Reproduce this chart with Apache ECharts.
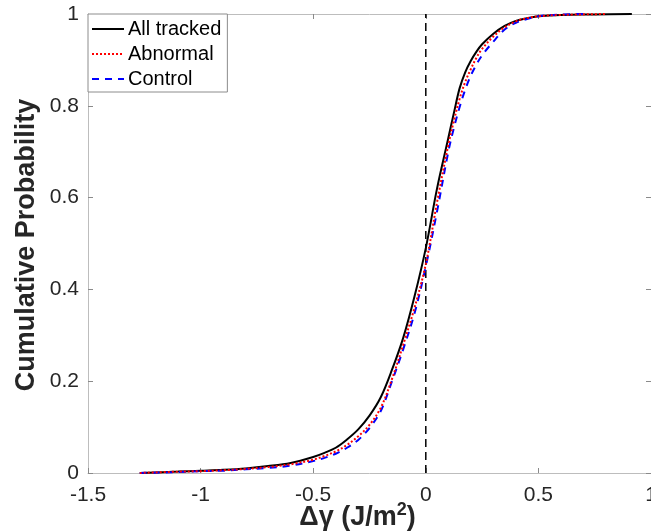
<!DOCTYPE html>
<html>
<head>
<meta charset="utf-8">
<script src="https://cdn.jsdelivr.net/npm/echarts@6/dist/echarts.min.js"></script>
<style>
  html, body { margin: 0; padding: 0; background: #fff; }
  #chart { width: 651px; height: 531px; }
</style>
</head>
<body>
<div id="chart"></div>
<script>
// Empirical CDFs of the surface-energy change, one [x, y] list per group
const allTracked = [
  [-1.27, 0.000], [-1.1, 0.003], [-1.0, 0.005], [-0.9, 0.007], [-0.8, 0.010],
  [-0.7, 0.015], [-0.6, 0.022], [-0.5, 0.035], [-0.45, 0.044], [-0.4, 0.055],
  [-0.35, 0.073], [-0.3, 0.095], [-0.25, 0.125], [-0.2, 0.165], [-0.15, 0.225],
  [-0.1, 0.295], [-0.05, 0.385], [0.0, 0.49], [0.05, 0.62], [0.1, 0.73],
  [0.125, 0.785], [0.15, 0.838], [0.175, 0.873], [0.2, 0.898], [0.225, 0.918],
  [0.25, 0.934], [0.3, 0.957], [0.35, 0.974], [0.4, 0.985], [0.45, 0.991],
  [0.5, 0.995], [0.6, 0.998], [0.75, 0.999], [0.915, 1.000]
];
const abnormal = [
  [-1.27, 0.000], [-1.1, 0.003], [-1.0, 0.004], [-0.9, 0.006], [-0.8, 0.009],
  [-0.7, 0.013], [-0.6, 0.019], [-0.5, 0.029], [-0.45, 0.037], [-0.4, 0.047],
  [-0.35, 0.061], [-0.3, 0.080], [-0.25, 0.105], [-0.2, 0.142], [-0.15, 0.205],
  [-0.1, 0.28], [-0.05, 0.36], [0.0, 0.455], [0.05, 0.59], [0.1, 0.715],
  [0.125, 0.768], [0.15, 0.815], [0.175, 0.852], [0.2, 0.88], [0.225, 0.905],
  [0.25, 0.924], [0.3, 0.951], [0.35, 0.971], [0.4, 0.984], [0.45, 0.991],
  [0.5, 0.995], [0.6, 0.998], [0.8, 1.000]
];
const control = [
  [-1.27, 0.000], [-1.1, 0.002], [-1.0, 0.004], [-0.9, 0.005], [-0.8, 0.008],
  [-0.7, 0.011], [-0.6, 0.016], [-0.5, 0.026], [-0.45, 0.033], [-0.4, 0.042],
  [-0.35, 0.055], [-0.3, 0.072], [-0.25, 0.098], [-0.2, 0.135], [-0.15, 0.20],
  [-0.1, 0.27], [-0.05, 0.348], [0.0, 0.45], [0.05, 0.57], [0.1, 0.70],
  [0.125, 0.752], [0.15, 0.797], [0.175, 0.835], [0.2, 0.866], [0.225, 0.89],
  [0.25, 0.91], [0.3, 0.94], [0.35, 0.966], [0.4, 0.981], [0.45, 0.989],
  [0.5, 0.995], [0.6, 0.999], [0.71, 1.000]
];
// Reference line at zero change
const zeroLine = [[0, 0], [0, 1]];

const seriesNames = ['All tracked', 'Abnormal', 'Control'];
const xTicks = { min: -1.5, max: 1, step: 0.5 };
const yTicks = { min: 0, max: 1, step: 0.2 };

const FONT = '"Liberation Sans", Arial, Helvetica, sans-serif';
const AXIS_GRAY = '#bdbdbd';
const TEXT = '#262626';

const chart = echarts.init(document.getElementById('chart'), null, { renderer: 'canvas' });

const frameAxis = {
  axisLine: { show: true, onZero: false, lineStyle: { color: AXIS_GRAY, width: 1 } },
  axisTick: { show: true, inside: true, length: 5, lineStyle: { color: '#8a8a8a', width: 1 } },
  splitLine: { show: false }
};

chart.setOption({
  animation: false,
  backgroundColor: '#fff',
  textStyle: { fontFamily: FONT },
  grid: { left: 88, right: 0, top: 14, bottom: 58, containLabel: false, outerBoundsMode: 'none' },
  legend: {
    data: seriesNames,
    orient: 'vertical',
    left: 88, top: 14,
    padding: [5, 6, 3, 3],
    itemGap: 5,
    itemWidth: 32, itemHeight: 14,
    itemStyle: { opacity: 0 },
    backgroundColor: '#fff',
    borderColor: '#8c8c8c', borderWidth: 1,
    textStyle: { fontFamily: FONT, fontSize: 20, color: '#000', padding: [0, 0, 0, -1] }
  },
  xAxis: [
    Object.assign({
      type: 'value', position: 'bottom',
      min: xTicks.min, max: xTicks.max, interval: xTicks.step,
      axisLabel: { fontFamily: FONT, fontSize: 21, color: TEXT, margin: 12 },
      name: '{a|Δγ (J/m}{s|2}{a|)}',
      nameLocation: 'middle', nameGap: 28,
      nameMoveOverlap: false,
      nameTextStyle: {
        padding: [0, 24, 0, 0],
        rich: {
          a: { fontFamily: FONT, fontSize: 27, fontWeight: 'bold', color: TEXT, verticalAlign: 'bottom', lineHeight: 30 },
          s: { fontFamily: FONT, fontSize: 18, fontWeight: 'bold', color: TEXT, verticalAlign: 'top', lineHeight: 30, padding: [0, 0, 12, 0] }
        }
      }
    }, frameAxis),
    Object.assign({
      type: 'value', position: 'top',
      min: xTicks.min, max: xTicks.max, interval: xTicks.step,
      axisLabel: { show: false }
    }, frameAxis)
  ],
  yAxis: [
    Object.assign({
      type: 'value', position: 'left',
      min: yTicks.min, max: yTicks.max, interval: yTicks.step,
      axisLabel: { fontFamily: FONT, fontSize: 21, color: TEXT, margin: 9 },
      name: 'Cumulative Probability',
      nameLocation: 'middle', nameGap: 48,
      nameMoveOverlap: false,
      nameTextStyle: { fontFamily: FONT, fontSize: 27, fontWeight: 'bold', color: TEXT, padding: [0, 3, 0, 0] }
    }, frameAxis),
    Object.assign({
      type: 'value', position: 'right',
      min: yTicks.min, max: yTicks.max, interval: yTicks.step,
      axisLabel: { show: false }
    }, frameAxis)
  ],
  series: [
    {
      name: 'zero', type: 'line', data: zeroLine,
      symbol: 'none', silent: true,
      lineStyle: { color: '#000', width: 1.5, type: [8, 5] },
      z: 1
    },
    {
      name: seriesNames[0], type: 'line', data: allTracked,
      symbol: 'none', smooth: 0.35,
      lineStyle: { color: '#000', width: 2, type: 'solid' },
      itemStyle: { color: '#000' },
      z: 2
    },
    {
      name: seriesNames[2], type: 'line', data: control,
      symbol: 'none', smooth: 0.35,
      lineStyle: { color: '#0000ff', width: 2, type: [7, 6] },
      itemStyle: { color: '#0000ff' },
      z: 3
    },
    {
      name: seriesNames[1], type: 'line', data: abnormal,
      symbol: 'none', smooth: 0.35,
      lineStyle: { color: '#ff0000', width: 2, type: [2, 2] },
      itemStyle: { color: '#ff0000' },
      z: 4
    }
  ]
});
</script>
</body>
</html>
